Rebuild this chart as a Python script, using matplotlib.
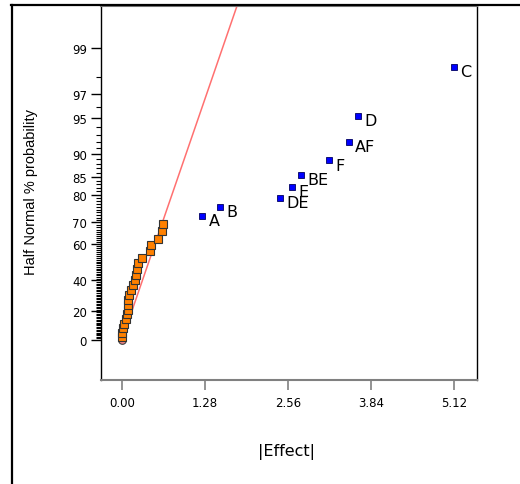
"""Half-normal probability plot of effects (|Effect| vs half-normal % probability)."""

from statistics import NormalDist

import numpy as np
import matplotlib
matplotlib.use("Agg")
import matplotlib.pyplot as plt
from matplotlib.lines import Line2D

# labelled (significant) effects
effect_names = ["A", "B", "DE", "E", "BE", "F", "AF", "D", "C"]
effect_abs = [1.237, 1.507, 2.432, 2.617, 2.755, 3.197, 3.499, 3.643, 5.116]
effect_prob = [72.6, 75.8, 79.0, 82.3, 85.5, 88.7, 91.9, 95.2, 98.4]

# error (unlabelled) effects
error_abs = [0.0, 0.005, 0.015, 0.03, 0.055, 0.08, 0.09, 0.095, 0.10, 0.11, 0.135,
             0.165, 0.195, 0.22, 0.225, 0.25, 0.305, 0.435, 0.445, 0.555, 0.615, 0.625]
error_prob = [1.61, 4.84, 8.06, 11.29, 14.52, 17.74, 20.97, 24.19, 27.42, 30.65, 33.87,
              37.10, 40.32, 43.55, 46.77, 50.00, 53.23, 56.45, 59.68, 62.90, 66.13, 69.35]

# fitted line through the error effects
fit_abs = [0.0, 1.77]
fit_prob = [0.0, 99.68]

x_ticks = [0.00, 1.28, 2.56, 3.84, 5.12]
y_ticks = [0, 20, 40, 60, 70, 80, 85, 90, 95, 97, 99]
y_minor = [v for v in range(1, 99) if v not in y_ticks]

_nd = NormalDist()


def _fwd(p):
    # half-normal probability scale: % -> z
    p = np.clip(np.asarray(p, dtype=float), -99.99999, 99.99999)
    return np.vectorize(lambda v: _nd.inv_cdf(0.5 + v / 200.0))(p)


def _inv(z):
    z = np.asarray(z, dtype=float)
    return np.vectorize(lambda v: 200.0 * (_nd.cdf(v) - 0.5))(z)


W, H = 520, 485
fig = plt.figure(figsize=(W / 100, H / 100), dpi=100)
ax = fig.add_axes([100.7 / W, 1 - 380.7 / H, 376 / W, 373.4 / H])
ax.set_yscale("function", functions=(_fwd, _inv))

ax.plot(fit_abs, fit_prob, color="#ff7070", lw=1.1, zorder=2)
ax.plot([0.0], [0.0], "o", ms=5.5, mfc="#f08080", mec="#404040", mew=0.8, zorder=2)
ax.plot(error_abs, error_prob, "s", ms=6, mfc="#ff8000", mec="#333333", mew=0.8,
        zorder=3, clip_on=False)
ax.plot(effect_abs, effect_prob, "s", ms=5, mfc="#0000ff", mec="#000060", mew=0.6,
        zorder=3, clip_on=False)
for name, xv, yv in zip(effect_names, effect_abs, effect_prob):
    ax.annotate(name, (xv, yv), textcoords="offset points", xytext=(4.5, -3.3),
                ha="left", va="center", fontsize=11.5, family="DejaVu Sans")

ax.set_xlim(-0.328, 5.465)
ax.set_ylim(-27.66, 99.68)

ax.set_xticks(x_ticks)
ax.set_xticklabels([f"{v:.2f}" for v in x_ticks], fontsize=8.5, family="DejaVu Sans")
ax.set_yticks(y_ticks)
ax.set_yticklabels([str(v) for v in y_ticks], fontsize=8.5, family="DejaVu Sans")
ax.set_yticks(y_minor, minor=True)
ax.tick_params(axis="x", length=7, width=1.2, color="#808080", pad=5)
ax.tick_params(axis="x", which="minor", bottom=False)
ax.tick_params(axis="y", which="major", length=7, width=1, color="black", pad=3)
ax.tick_params(axis="y", which="minor", length=3.5, width=0.8, color="black")

for side in ("left", "right"):
    ax.spines[side].set_color("black")
    ax.spines[side].set_linewidth(1.0)
for side in ("top", "bottom"):
    ax.spines[side].set_color("#808080")
    ax.spines[side].set_linewidth(1.5)

fig.text(31 / W, 1 - 192 / H, "Half Normal % probability", rotation=90,
         ha="center", va="center", fontsize=10.5, family="Liberation Sans")
fig.text(287 / W, 1 - 452 / H, "|Effect|", ha="center", va="center",
         fontsize=11.5, family="DejaVu Sans")

# outer frame (top and left edges only)
fig.add_artist(Line2D([11.8 / W, 11.8 / W], [0, 1 - 5.5 / H], transform=fig.transFigure,
                      color="black", lw=1.6))
fig.add_artist(Line2D([11.0 / W, 1], [1 - 5.5 / H, 1 - 5.5 / H], transform=fig.transFigure,
                      color="black", lw=1.6))

fig.savefig("out.png", dpi=100)
